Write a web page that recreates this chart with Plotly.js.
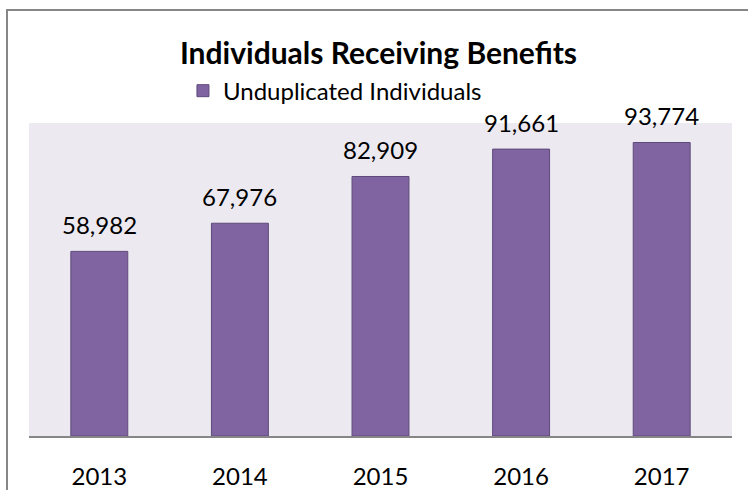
<!DOCTYPE html>
<html>
<head>
<meta charset="utf-8">
<script src="https://cdn.plot.ly/plotly-3.0.1.min.js"></script>
<style>
html,body{margin:0;padding:0;background:#fff;overflow:hidden;}
#chart{width:748px;height:490px;}
#frame{position:absolute;left:6px;top:9px;width:780px;height:520px;border:2px solid #878787;pointer-events:none;}
</style>
</head>
<body>
<div id="chart"></div>
<div id="frame"></div>
<script>
const categories = ['2013', '2014', '2015', '2016', '2017'];
const individuals = [58982, 67976, 82909, 91661, 93774];
const seriesName = 'Unduplicated Individuals';
const chartTitle = 'Individuals Receiving Benefits';

const fmt = v => v.toLocaleString('en-US');

const trace = {
  type: 'bar',
  x: categories,
  y: individuals,
  name: seriesName,
  marker: {color: '#8064A2', line: {color: '#5E4A7A', width: 1}},
  hoverinfo: 'x+y'
};

const annotations = categories.map((c, i) => ({
  x: i, y: individuals[i], xref: 'x', yref: 'y',
  text: fmt(individuals[i]), showarrow: false,
  yanchor: 'bottom', yshift: 10,
  font: {family: 'Lato, sans-serif', size: 24, color: '#000'}
}));

const layout = {
  width: 748, height: 490,
  margin: {l: 29, r: 16, t: 123, b: 54},
  paper_bgcolor: '#ffffff',
  plot_bgcolor: '#ECEAF0',
  bargap: 0.595,
  title: {
    text: '<b>' + chartTitle + '</b>',
    font: {family: 'Lato, sans-serif', size: 30, color: '#000'},
    x: 0.506, xanchor: 'center', y: 0.89, yanchor: 'middle'
  },
  showlegend: true,
  legend: {
    orientation: 'h', x: 0.219, xanchor: 'left', y: 1.102, yanchor: 'middle',
    font: {family: 'Lato, sans-serif', size: 24, color: '#000'},
    bgcolor: 'rgba(0,0,0,0)'
  },
  xaxis: {
    type: 'category',
    range: [-0.5, categories.length - 0.5],
    showgrid: false, zeroline: false,
    showline: true, linecolor: '#868686', linewidth: 2,
    ticks: '', ticklabelstandoff: 18,
    tickfont: {family: 'Lato, sans-serif', size: 24, color: '#000'}
  },
  yaxis: {
    range: [0, 100000],
    showgrid: false, zeroline: false, showline: false,
    showticklabels: false, ticks: ''
  },
  annotations: annotations
};

Plotly.newPlot('chart', [trace], layout, {displayModeBar: false, staticPlot: true});
</script>
</body>
</html>
